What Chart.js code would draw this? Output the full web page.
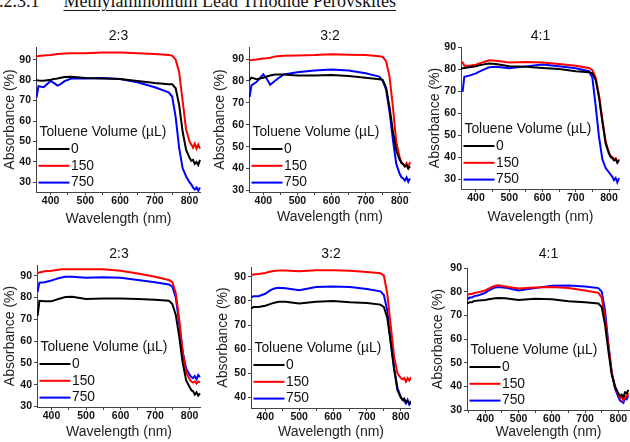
<!DOCTYPE html>
<html>
<head>
<meta charset="utf-8">
<script src="https://cdn.jsdelivr.net/npm/chart.js@4.4.1/dist/chart.umd.min.js"></script>
<style>
  body { margin: 0; background: #fff; width: 630px; height: 442px; overflow: hidden; position: relative; }
  canvas { position: absolute; }
  #head { position: absolute; left: -10px; top: -8px; font: 18px 'Liberation Serif', 'Times New Roman', serif; line-height: 18px; white-space: nowrap; color: #111; }
  #head u { margin-left: 24px; text-underline-offset: 3px; }
</style>
</head>
<body>
<div id="head">3.2.3.1<u>Methylammonium Lead Triiodide Perovskites</u></div>
<script>
// wavelength (nm) shared by every spectrum
const wavelength = [345, 352, 360, 365, 380, 400, 410, 420, 430, 440, 460, 500, 550, 600, 650, 700, 740, 750, 760, 770, 780, 790, 800, 805, 810, 815, 820, 825, 830];
const volumes = ['0', '150', '750'];
const ratios = ['2:3', '3:2', '4:1', '2:3', '3:2', '4:1'];

// top row, absorbance (%)
const a23_0   = [80, 80, 80, 79.8, 79.7, 80.2, 80.5, 80.8, 81.2, 81.5, 81.7, 81, 80.8, 80.5, 79.6, 78.6, 78, 78, 76, 68, 55, 46, 42, 40.5, 41, 39, 40, 38.5, 41];
const a23_150 = [91.5, 91.5, 91.5, 91.8, 92, 92.3, 92.5, 92.8, 92.9, 93, 93.2, 93.2, 93.5, 93.5, 93.2, 92.8, 92.3, 92, 90, 84, 70, 56, 50, 48.5, 47, 49, 46.5, 48.5, 46.5];
const a23_750 = [72, 72, 72, 77, 76.5, 79.6, 78.5, 77.3, 78.2, 79.5, 80.8, 80.8, 81, 80.5, 79, 76.5, 74, 72, 62, 47, 37, 33, 30, 29, 27.5, 26.5, 27.5, 26, 27.5];

const a32_0   = [80.5, 80.5, 80.5, 81.5, 80.8, 81.5, 82, 82.5, 82.8, 83, 83, 82.5, 82.5, 82.7, 82.3, 81.5, 80.8, 80.5, 77, 68, 57, 48, 44, 42.5, 42, 41, 41.5, 40, 41];
const a32_150 = [89.5, 89.5, 89.5, 89.6, 89.8, 90.3, 90.4, 90.6, 91, 91.3, 91.5, 91.6, 91.8, 92.2, 92, 91.8, 91.3, 91, 89, 82, 68, 52, 45, 43, 42, 41, 42.5, 40.5, 43];
const a32_750 = [73, 73, 73, 78, 79.5, 83, 81, 78.3, 79.5, 80.8, 83, 84, 84.8, 85.2, 84.8, 83.5, 82, 80, 76, 66, 53, 42, 37.5, 36, 35.5, 34.5, 36, 34, 35.5];

const a41_0   = [80.3, 80.3, 80.3, 80.5, 80.8, 81.3, 81.7, 82, 82.3, 82.5, 82.3, 81.3, 81, 80.5, 80, 79, 78.5, 78, 75, 67, 56, 46, 41.5, 40, 39.5, 38.5, 39, 37.5, 38.5];
const a41_150 = [83, 83, 83, 81.5, 81.5, 82, 82.5, 83, 83.5, 84, 83.8, 83, 83.2, 83, 82.3, 81.5, 80.5, 79.5, 76, 68, 57, 47, 42, 40.5, 40, 39, 39.5, 37.5, 39];
const a41_750 = [70, 70, 70, 76.5, 77, 78, 78.8, 79.5, 80.2, 80.8, 81, 80.3, 81.2, 82, 81.3, 80.3, 79, 76, 63, 49, 39, 35, 33, 32, 31, 29.5, 30.5, 28.5, 30.5];

// bottom row, absorbance (%)
const b23_0   = [72, 72, 72, 78.5, 78.3, 78.3, 78.8, 79.3, 79.8, 80.2, 80.3, 79.3, 79.5, 79.5, 79.3, 79, 78.5, 77, 72, 62, 50, 42, 39, 37.5, 37, 35.5, 36.5, 35, 36];
const b23_150 = [91.3, 91.3, 91.3, 91.5, 92, 92.3, 92.5, 92.7, 92.9, 93, 93, 93, 93, 92.3, 91, 89.5, 88, 87, 82, 70, 55, 45.5, 42.5, 41.5, 41, 41.5, 40.5, 41.5, 41];
const b23_750 = [83, 83, 83, 86.8, 87, 87.8, 88.3, 88.8, 89.2, 89.5, 89.5, 89, 89.3, 89, 88, 87, 86, 85, 80, 68, 55, 47.5, 44.5, 43.5, 43, 44, 42.5, 44.5, 43.5];

const b32_0   = [77, 77, 77, 77.5, 77.5, 78, 78.5, 79, 79.4, 79.7, 79.7, 79, 79.7, 80, 79.5, 79.2, 78.5, 77.5, 73, 63, 52, 43, 40, 39, 39.5, 38, 38.5, 37.5, 38.5];
const b32_150 = [90.8, 90.8, 90.8, 91, 91.2, 91.6, 92, 92.3, 92.5, 92.6, 92.6, 92.3, 92.8, 92.8, 92.5, 92, 91.5, 90.5, 83, 70, 57, 50, 48, 47.5, 48, 46.5, 48, 47, 48.5];
const b32_750 = [81.5, 81.5, 81.5, 82, 82, 83, 84, 84.8, 85.3, 85.5, 85.3, 84.5, 85.8, 86, 85.8, 85, 84, 82.5, 76, 63, 52, 44, 40, 39, 38.5, 37.5, 39, 37, 38];

const b41_0   = [75, 75.5, 75.5, 76, 76.3, 76.5, 76.8, 77, 77.2, 77.3, 77.2, 76.5, 77, 76.8, 76, 75.5, 75, 73.5, 66, 55, 45, 40, 37, 36, 36.5, 35.5, 37.5, 37, 38.5];
const b41_150 = [78.5, 79, 79, 79.3, 79.8, 80.5, 81.3, 82, 82.5, 82.7, 82.2, 81.3, 81.8, 82, 81.5, 80.5, 79.5, 77.5, 69, 57, 46, 39.5, 36.5, 35, 35.5, 34, 36, 35.5, 37];
const b41_750 = [76.5, 77.5, 77.5, 78, 78.5, 79.5, 80.5, 81.2, 81.8, 82, 81.7, 80.5, 81.5, 82.5, 82.6, 82.2, 81.5, 80, 72, 58, 46, 39, 35.5, 34, 33.5, 33, 35, 34.5, 36];

const seriesSets = [
    [a23_0, a23_150, a23_750], [a32_0, a32_150, a32_750], [a41_0, a41_150, a41_750],
    [b23_0, b23_150, b23_750], [b32_0, b32_150, b32_750], [b41_0, b41_150, b41_750]
];
const xRanges = [[358, 833], [358, 833], [355, 833], [358, 833], [358, 830], [345, 835]];
const yRanges = [[25.3, 96.2], [29.3, 95.5], [25.5, 90], [29.8, 94.9], [35.6, 94.1], [30, 90]];

// layout: plot box [left, right, top, bottom], ratio title y, y-title x, x-title y
const layoutBoxes = [
    { box: [36, 201, 47, 192], titleY: 36, yTitleX: 10, xTitleY: 220 },
    { box: [249, 411, 47, 192], titleY: 36, yTitleX: 220, xTitleY: 218 },
    { box: [461, 620, 47, 189], titleY: 36, yTitleX: 435, xTitleY: 218 },
    { box: [37, 201, 265, 407], titleY: 254, yTitleX: 10, xTitleY: 433 },
    { box: [251, 411, 267, 408], titleY: 254, yTitleX: 223, xTitleY: 433 },
    { box: [467, 630, 268, 410], titleY: 254, yTitleX: 438, xTitleY: 433 }
];

const lineColors = ['#000000', '#ff0000', '#0000ff'];
const tickFont = { family: "'Liberation Sans Narrow', 'Liberation Sans', Arial, sans-serif", size: 10.5, weight: 'bold' };
Chart.defaults.font.family = "'Liberation Sans', Arial, sans-serif";

// legend drawn inside the plot, bottom-left, like the original
const insideLegend = {
    id: 'insideLegend',
    afterDraw(chart) {
        const { ctx, chartArea } = chart;
        const left = chartArea.left, bottom = chartArea.bottom;
        ctx.save();
        ctx.font = "13.8px 'Liberation Sans', Arial, sans-serif";
        ctx.textBaseline = 'middle';
        ctx.fillStyle = '#111';
        ctx.fillText('Toluene Volume (µL)', left + 3.5, bottom - 60);
        chart.data.datasets.forEach((ds, k) => {
            const y = bottom - 43 + k * 16.8;
            ctx.strokeStyle = ds.borderColor;
            ctx.lineWidth = 2;
            ctx.beginPath();
            ctx.moveTo(left + 2.5, y);
            ctx.lineTo(left + 33.5, y);
            ctx.stroke();
            ctx.fillStyle = '#111';
            ctx.fillText(ds.label, left + 35, y);
        });
        ctx.restore();
    }
};

function makePanel(i) {
    const lay = layoutBoxes[i];
    const [L, R, T, B] = lay.box;
    const cl = Math.round(lay.yTitleX - 8.1);
    const ct = Math.round(lay.titleY - 8.4);
    const cb = Math.round(lay.xTitleY + 8.1);

    const cv = document.createElement('canvas');
    cv.width = R - cl;
    cv.height = cb - ct;
    cv.style.left = cl + 'px';
    cv.style.top = ct + 'px';
    document.body.appendChild(cv);

    const datasets = volumes.map((v, k) => ({
        label: v,
        data: wavelength.map((w, j) => ({ x: w, y: seriesSets[i][k][j] })),
        borderColor: lineColors[k],
        backgroundColor: lineColors[k],
        borderWidth: 2,
        pointRadius: 0,
        tension: 0
    }));

    return new Chart(cv, {
        type: 'line',
        data: { datasets: datasets },
        options: {
            responsive: false,
            animation: false,
            layout: { padding: 0 },
            plugins: {
                legend: { display: false },
                tooltip: { enabled: false },
                title: {
                    display: true,
                    text: ratios[i],
                    fullSize: false,
                    color: '#111',
                    font: { size: 14, weight: 'normal' },
                    padding: { top: 0, bottom: T - ct - 16.8 }
                }
            },
            scales: {
                x: {
                    type: 'linear',
                    min: xRanges[i][0],
                    max: xRanges[i][1],
                    afterFit: (s) => { s.height = cb - B; },
                    border: { color: '#444', width: 1 },
                    grid: { drawOnChartArea: false, tickLength: 3, color: '#444' },
                    ticks: {
                        stepSize: 50,
                        includeBounds: false,
                        autoSkip: false,
                        maxRotation: 0,
                        padding: 0,
                        color: '#111',
                        font: tickFont,
                        callback: (v) => (v % 100 === 0 ? v : '')
                    },
                    title: { display: true, text: 'Wavelength (nm)', color: '#222', font: { size: 14 }, padding: 0 }
                },
                y: {
                    min: yRanges[i][0],
                    max: yRanges[i][1],
                    afterFit: (s) => { s.width = L - cl; },
                    border: { color: '#444', width: 1 },
                    grid: { drawOnChartArea: false, tickLength: 3, color: '#444' },
                    ticks: { stepSize: 10, includeBounds: false, padding: 2, color: '#111', font: tickFont },
                    title: { display: true, text: 'Absorbance (%)', color: '#222', font: { size: 14 }, padding: 0 }
                }
            }
        },
        plugins: [insideLegend]
    });
}

for (let i = 0; i < 6; i++) {
    makePanel(i);
}
</script>
</body>
</html>
